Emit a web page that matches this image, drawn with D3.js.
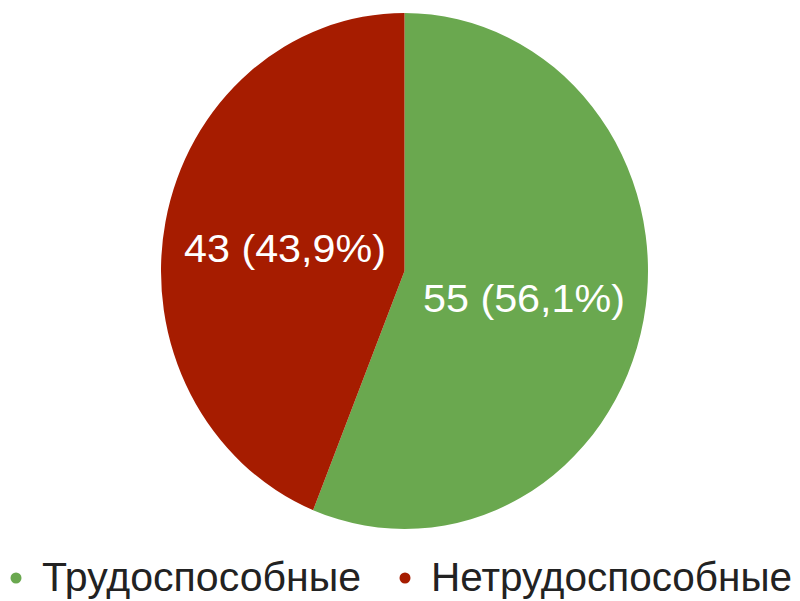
<!DOCTYPE html>
<html><head><meta charset="utf-8">
<script src="https://cdn.jsdelivr.net/npm/d3@7"></script>
<style>body{margin:0;background:#fff}svg{display:block}</style>
</head><body>
<svg id="c" width="800" height="601"></svg>
<script>
const categories = ["Трудоспособные", "Нетрудоспособные"];
const values = [55, 43];
const labels = ["55 (56,1%)", "43 (43,9%)"];
const colors = ["#6aa84f", "#a61c00"];

const svg = d3.select("#c");
const cx = 404.5, cy = 271, rx = 243.5, ry = 258;
const g = svg.append("g").attr("transform", `translate(${cx},${cy}) scale(1,${ry/rx})`);
const pie = d3.pie().sort(null).value(d => d)(values);
const arc = d3.arc().innerRadius(0).outerRadius(rx);
g.selectAll("path").data(pie).join("path")
  .attr("d", arc).attr("fill", (d,i) => colors[i]);

const lg = svg.append("g").attr("transform", `translate(${cx},${cy})`);
pie.forEach((d,i) => {
  const [x,y] = arc.centroid(d);
  lg.append("text")
    .attr("x", x).attr("y", y*ry/rx + 16)
    .attr("text-anchor", "middle")
    .attr("font-family", "Liberation Sans, Arial, sans-serif")
    .attr("font-size", 39)
    .attr("textLength", 202)
    .attr("lengthAdjust", "spacingAndGlyphs")
    .attr("fill", "#fff")
    .text(labels[i]);
});

// legend
const legendX = [16, 405];
const legendW = [319, 361];
categories.forEach((c,i) => {
  svg.append("circle").attr("cx", legendX[i]).attr("cy", 578).attr("r", 5.5).attr("fill", colors[i]);
  svg.append("text").attr("x", legendX[i] + 26).attr("y", 591)
    .attr("font-family", "Liberation Sans, Arial, sans-serif")
    .attr("font-size", 41.5).attr("fill", "#222")
    .attr("textLength", legendW[i]).attr("lengthAdjust", "spacingAndGlyphs")
    .text(c);
});
</script>
</body></html>
